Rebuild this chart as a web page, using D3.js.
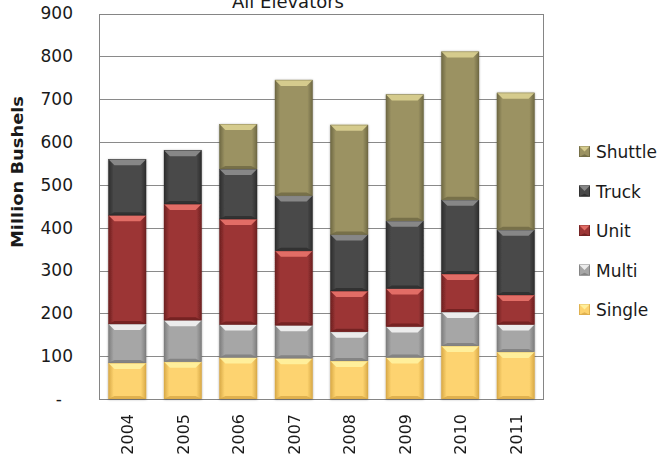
<!DOCTYPE html>
<html>
<head>
<meta charset="utf-8">
<script src="https://cdn.jsdelivr.net/npm/d3@7/dist/d3.min.js"></script>
<style>
  html, body { margin: 0; padding: 0; background: #fff; }
  svg { display: block; }
  text { font-family: "DejaVu Sans", sans-serif; fill: #1a1a1a; }
</style>
</head>
<body>
<svg id="chart" width="661" height="459"></svg>
<script>
// Grain handled by elevator type, million bushels per year
const years = ["2004", "2005", "2006", "2007", "2008", "2009", "2010", "2011"];
const single  = [84, 87, 97, 95, 89, 97, 124, 110];
const multi   = [91, 97, 77, 77, 68, 72, 79, 64];
const unit    = [254, 271, 246, 174, 95, 89, 89, 69];
const truck   = [131, 126, 117, 129, 132, 158, 173, 152];
const shuttle = [0, 0, 105, 270, 256, 295, 346, 320];
const yTicks = [0, 100, 200, 300, 400, 500, 600, 700, 800, 900];
const yTickLabels = ["-", "100", "200", "300", "400", "500", "600", "700", "800", "900"];

const seriesNames = ["Single", "Multi", "Unit", "Truck", "Shuttle"];
const seriesValues = [single, multi, unit, truck, shuttle];
const palette = {
  Single:  { base: "#fdd36f", light: "#fff2a0", dark: "#d8a947" },
  Multi:   { base: "#a6a6a6", light: "#f4f4f4", dark: "#7c7c7c" },
  Unit:    { base: "#9c3535", light: "#ea736c", dark: "#6c2020" },
  Truck:   { base: "#494949", light: "#8e8e8e", dark: "#2c2c2c" },
  Shuttle: { base: "#9b9262", light: "#dbd192", dark: "#6e6843" }
};

const rows = years.map((yr, i) => {
  const r = { year: yr };
  seriesNames.forEach((s, k) => { r[s] = seriesValues[k][i]; });
  return r;
});
const stacked = d3.stack().keys(seriesNames)(rows);

const svg = d3.select("#chart");
const plot = { left: 99, right: 544, top: 13.5, bottom: 399 };

const x = d3.scaleBand().domain(years).range([plot.left, plot.right])
  .paddingInner(0.32).paddingOuter(0.17);
const y = d3.scaleLinear().domain([0, 900]).range([plot.bottom, plot.top]);

// Gradients: darker edges on each bar face
const defs = svg.append("defs");
seriesNames.forEach(s => {
  const g = defs.append("linearGradient").attr("id", "g-" + s)
    .attr("x1", "0").attr("x2", "1").attr("y1", "0").attr("y2", "0");
  const c = palette[s];
  g.append("stop").attr("offset", "0").attr("stop-color", c.dark);
  g.append("stop").attr("offset", "0.14").attr("stop-color", c.base);
  g.append("stop").attr("offset", "0.86").attr("stop-color", c.base);
  g.append("stop").attr("offset", "1").attr("stop-color", c.dark);
});
const shadow = defs.append("filter").attr("id", "shadow")
  .attr("x", "-20%").attr("y", "-20%").attr("width", "140%").attr("height", "140%");
shadow.append("feDropShadow").attr("dx", 0).attr("dy", 0.5)
  .attr("stdDeviation", 1).attr("flood-color", "#000").attr("flood-opacity", 0.35);

// Gridlines
svg.append("g").selectAll("line")
  .data(yTicks.filter(t => t > 0 && t < 900))
  .join("line")
  .attr("x1", plot.left).attr("x2", plot.right)
  .attr("y1", d => Math.round(y(d)) + 0.5).attr("y2", d => Math.round(y(d)) + 0.5)
  .attr("stroke", "#8a8a8a").attr("stroke-width", 1);

// Plot frame
svg.append("rect")
  .attr("x", plot.left + 0.5).attr("y", Math.round(plot.top) + 0.5)
  .attr("width", plot.right - plot.left - 1)
  .attr("height", plot.bottom - Math.round(plot.top))
  .attr("fill", "none").attr("stroke", "#858585").attr("stroke-width", 1);

// Beveled block drawing
function bevel(g, x0, y0, w, h, s) {
  const c = palette[s];
  const b = Math.min(6, h / 2, w / 2);
  g.append("rect").attr("x", x0).attr("y", y0).attr("width", w).attr("height", h)
    .attr("fill", `url(#g-${s})`);
  // top bevel
  g.append("path")
    .attr("d", `M${x0},${y0}L${x0 + w},${y0}L${x0 + w - b},${y0 + b}L${x0 + b},${y0 + b}Z`)
    .attr("fill", c.light).attr("opacity", 0.9);
  // bottom bevel
  g.append("path")
    .attr("d", `M${x0},${y0 + h}L${x0 + w},${y0 + h}L${x0 + w - b},${y0 + h - b * 0.5}L${x0 + b},${y0 + h - b * 0.5}Z`)
    .attr("fill", c.dark).attr("opacity", 0.8);
  g.append("rect").attr("x", x0 + 0.25).attr("y", y0 + 0.25)
    .attr("width", w - 0.5).attr("height", h - 0.5)
    .attr("fill", "none").attr("stroke", c.dark).attr("stroke-width", 0.5).attr("opacity", 0.7);
}

// Bars
const barsG = svg.append("g").attr("filter", "url(#shadow)");
stacked.forEach(layer => {
  layer.forEach(d => {
    const v = d[1] - d[0];
    if (v <= 0) return;
    const x0 = x(d.data.year);
    const y0 = y(d[1]);
    const h = y(d[0]) - y(d[1]);
    bevel(barsG.append("g"), x0, y0, x.bandwidth(), h, layer.key);
  });
});

// Y axis tick labels
const yAxis = d3.axisLeft(y).tickValues(yTicks)
  .tickFormat((d, i) => yTickLabels[i]).tickSize(0).tickPadding(26);
const yg = svg.append("g").attr("transform", `translate(${plot.left},0)`).call(yAxis);
yg.select(".domain").remove();
yg.selectAll("text").attr("font-size", 17).attr("font-family", "DejaVu Sans")
  .attr("fill", "#1a1a1a");
yg.selectAll("text").filter(d => d === 0).attr("x", -37);

// X axis tick labels (rotated)
const xAxis = d3.axisBottom(x).tickSize(0).tickPadding(0);
const xg = svg.append("g").attr("transform", `translate(0,${plot.bottom})`).call(xAxis);
xg.select(".domain").remove();
xg.selectAll("text")
  .attr("font-size", 16).attr("font-family", "DejaVu Sans").attr("fill", "#1a1a1a")
  .attr("text-anchor", "end").attr("dy", null)
  .attr("transform", "translate(6,15) rotate(-90)")
  .attr("x", 0).attr("y", 0);

// Title
svg.append("text").attr("x", 288).attr("y", 7.5).attr("text-anchor", "middle")
  .attr("font-size", 18).attr("fill", "#111").text("All Elevators");

// Y axis title
svg.append("text")
  .attr("transform", `translate(23,172) rotate(-90)`)
  .attr("text-anchor", "middle").attr("font-size", 16).attr("font-weight", "bold")
  .attr("textLength", 152).attr("lengthAdjust", "spacingAndGlyphs")
  .attr("fill", "#111").text("Million Bushels");

// Legend (top entry is the top of the stack)
const legendOrder = seriesNames.slice().reverse();
const lg = svg.append("g");
legendOrder.forEach((s, i) => {
  const cy = 152 + i * 39.5;
  const g = lg.append("g");
  bevel(g, 579, cy - 6, 11, 11, s);
  g.append("text").attr("x", 596).attr("y", cy + 6)
    .attr("font-size", 17).attr("fill", "#1a1a1a").text(s);
});
</script>
</body>
</html>
